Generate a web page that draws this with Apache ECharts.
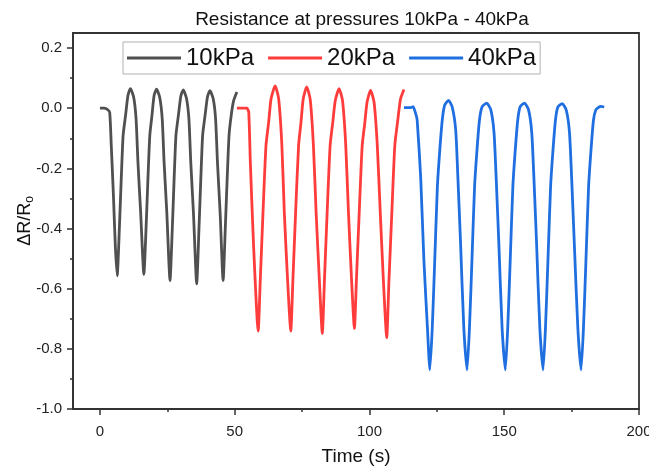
<!DOCTYPE html>
<html>
<head>
<meta charset="utf-8">
<script src="https://cdn.jsdelivr.net/npm/echarts@6/dist/echarts.min.js"></script>
<style>
html,body{margin:0;padding:0;background:#fff;}
#chart{width:649px;height:468px;}
</style>
</head>
<body>
<div id="chart"></div>
<script>
// ---- data ----
const seriesNames = ['10kPa', '20kPa', '40kPa'];
const xMajorTicks = [0, 50, 100, 150, 200];
const xMinorTicks = [25, 75, 125, 175];
const yMajorTicks = [-1.0, -0.8, -0.6, -0.4, -0.2, 0.0, 0.2];
const yMinorTicks = [-0.9, -0.7, -0.5, -0.3, -0.1, 0.1];

const t10 = [0, 1.5, 2.7, 3.6, 4.2, 5.0, 5.7, 6.4,
  7.2, 7.9, 8.6, 9.5, 10.4, 11.3, 12.5, 13.4, 14.1, 15.1, 16.3,
  17.1, 17.8, 18.5, 19.3, 20.1, 21.0, 22.2, 23.1, 23.8, 24.8, 26.0,
  26.8, 27.5, 28.2, 29.1, 30.0, 30.9, 32.1, 33.0, 33.7, 34.7, 35.9,
  36.7, 37.4, 38.1, 39.0, 39.9, 40.8, 42.0, 42.9, 43.6, 44.6, 45.7,
  46.5, 47.2, 47.9, 48.7, 49.6, 50.8];
const r10 = [0, 0, -0.004, -0.013, -0.124, -0.29, -0.457, -0.557,
  -0.40, -0.235, -0.09, -0.024, 0.043, 0.065, 0.037, -0.035, -0.18, -0.346, -0.552,
  -0.40, -0.235, -0.09, -0.024, 0.043, 0.063, 0.035, -0.035, -0.18, -0.346, -0.573,
  -0.41, -0.24, -0.09, -0.024, 0.04, 0.061, 0.033, -0.035, -0.18, -0.35, -0.584,
  -0.41, -0.24, -0.09, -0.024, 0.038, 0.058, 0.032, -0.035, -0.18, -0.35, -0.573,
  -0.40, -0.235, -0.09, -0.024, 0.025, 0.054];

const t20 = [50.8, 52.5, 54.5, 55.2, 55.8, 57.0, 58.7,
  59.5, 60.5, 61.6, 62.6, 63.5, 65.0, 66.3, 67.5, 68.4, 69.6, 70.8,
  71.6, 72.6, 73.7, 74.6, 75.4, 76.7, 78.0, 79.2, 80.2, 81.4, 82.5,
  83.3, 84.3, 85.4, 86.4, 87.3, 88.7, 90.0, 91.2, 92.2, 93.3, 94.4,
  95.2, 96.2, 97.3, 98.3, 99.1, 100.4, 101.7, 102.9, 104.0, 105.2, 106.4,
  107.2, 108.3, 109.4, 110.5, 111.5, 112.8];
const r20 = [0, 0, 0, -0.013, -0.18, -0.457, -0.741,
  -0.568, -0.346, -0.124, -0.046, 0.032, 0.074, 0.032, -0.124, -0.346, -0.568, -0.741,
  -0.568, -0.346, -0.124, -0.046, 0.03, 0.071, 0.03, -0.124, -0.346, -0.57, -0.749,
  -0.57, -0.346, -0.124, -0.046, 0.025, 0.065, 0.025, -0.124, -0.346, -0.56, -0.732,
  -0.56, -0.346, -0.124, -0.046, 0.02, 0.059, 0.02, -0.124, -0.346, -0.58, -0.763,
  -0.58, -0.346, -0.124, -0.04, 0.03, 0.062];

const t40 = [112.8, 114.5, 115.6, 116.2, 117.2, 117.7, 119.0, 120.2, 121.5, 122.4,
  123.3, 124.2, 125.2, 126.0, 127.0, 127.9, 129.3, 130.7, 132.0, 132.8, 133.8, 135.0, 136.2,
  137.1, 138.0, 139.0, 139.8, 140.8, 141.8, 143.5, 145.0, 146.2, 147.0, 148.0, 149.2, 150.4,
  151.3, 152.2, 153.2, 154.0, 155.0, 155.9, 157.5, 159.0, 160.2, 161.0, 162.0, 163.2, 164.4,
  165.3, 166.2, 167.2, 168.0, 169.0, 169.9, 171.5, 173.0, 174.2, 175.0, 176.0, 177.3, 178.5,
  179.4, 180.3, 181.3, 182.1, 183.1, 184.0, 185.2, 185.9, 187.1];
const r40 = [0.002, 0.002, 0.003, 0.005, -0.02, -0.04, -0.23, -0.507, -0.73, -0.87,
  -0.73, -0.51, -0.26, -0.15, -0.04, 0.01, 0.026, 0.004, -0.074, -0.23, -0.45, -0.73, -0.87,
  -0.73, -0.51, -0.26, -0.15, -0.04, 0.005, 0.017, -0.005, -0.08, -0.23, -0.45, -0.73, -0.87,
  -0.73, -0.51, -0.26, -0.15, -0.04, 0.005, 0.017, -0.005, -0.08, -0.23, -0.45, -0.73, -0.87,
  -0.73, -0.51, -0.26, -0.15, -0.04, 0.004, 0.015, -0.006, -0.08, -0.23, -0.45, -0.73, -0.87,
  -0.73, -0.51, -0.26, -0.15, -0.04, -0.005, 0.004, 0.006, 0.004];

const colors = ['#505050', '#ff3c3c', '#1f6fe0'];
// ---------------------------------------

function zip(xs, ys) { return xs.map((x, i) => [x, ys[i]]); }
const dataSets = [zip(t10, r10), zip(t20, r20), zip(t40, r40)];

const FONT = '"Liberation Sans", Arial, sans-serif';
const chart = echarts.init(document.getElementById('chart'), null, {renderer: 'canvas'});

const mainLine = {show: true, onZero: false, lineStyle: {color: '#333', width: 1.8}};
const hiddenLine = {show: false, onZero: false};

const option = {
  backgroundColor: '#fff',
  animation: false,
  title: {
    text: 'Resistance at pressures 10kPa - 40kPa',
    left: 357, textAlign: 'center', top: 5,
    textStyle: {fontFamily: FONT, fontSize: 19, fontWeight: 'normal', color: '#111'}
  },
  legend: {
    data: seriesNames,
    left: 123, top: 42,
    orient: 'horizontal',
    icon: 'rect',
    itemWidth: 54, itemHeight: 3,
    itemGap: 14,
    padding: [4, 4, 4, 4],
    borderColor: '#b0b0b0', borderWidth: 1,
    textStyle: {fontFamily: FONT, fontSize: 24, color: '#111'}
  },
  grid: {left: 73, right: 10, top: 33, bottom: 59, show: true, borderColor: '#333', borderWidth: 1.8,
    containLabel: false, outerBoundsMode: 'none'},
  xAxis: [
    {
      type: 'value', min: -10, max: 200,
      axisLine: mainLine, splitLine: {show: false},
      name: 'Time (s)', nameLocation: 'middle', nameGap: 38, nameMoveOverlap: false,
      nameTextStyle: {fontFamily: FONT, fontSize: 19, color: '#111'},
      axisTick: {show: true, length: 6, lineStyle: {color: '#333', width: 1.5}, customValues: xMajorTicks},
      axisLabel: {fontFamily: FONT, fontSize: 15, color: '#222', margin: 15, customValues: xMajorTicks}
    },
    {
      type: 'value', min: -10, max: 200, position: 'bottom',
      axisLine: hiddenLine, splitLine: {show: false},
      axisTick: {show: true, length: 3, lineStyle: {color: '#333', width: 1.5}, customValues: xMinorTicks},
      axisLabel: {show: false, customValues: xMinorTicks}
    }
  ],
  yAxis: [
    {
      type: 'value', min: -1.0, max: 0.25,
      axisLine: mainLine, splitLine: {show: false},
      name: 'ΔR/R{s|o}', nameLocation: 'middle', nameGap: 37, nameMoveOverlap: false,
      nameTextStyle: {fontFamily: FONT, fontSize: 18, color: '#111',
        rich: {s: {fontFamily: FONT, fontSize: 12, color: '#111', verticalAlign: 'bottom', padding: [9, 0, 0, 0]}}},
      axisTick: {show: true, length: 6, lineStyle: {color: '#333', width: 1.5}, customValues: yMajorTicks},
      axisLabel: {fontFamily: FONT, fontSize: 15, color: '#222', margin: 11, customValues: yMajorTicks,
        formatter: v => v.toFixed(1)}
    },
    {
      type: 'value', min: -1.0, max: 0.25, position: 'left',
      axisLine: hiddenLine, splitLine: {show: false},
      axisTick: {show: true, length: 3, lineStyle: {color: '#333', width: 1.5}, customValues: yMinorTicks},
      axisLabel: {show: false, customValues: yMinorTicks}
    }
  ],
  series: seriesNames.map((n, i) => ({
    name: n, type: 'line', data: dataSets[i],
    xAxisIndex: 0, yAxisIndex: 0,
    showSymbol: false, symbol: 'none',
    smooth: 0.2,
    lineStyle: {color: colors[i], width: 2.8},
    itemStyle: {color: colors[i]}
  }))
};
chart.setOption(option);
</script>
</body>
</html>
